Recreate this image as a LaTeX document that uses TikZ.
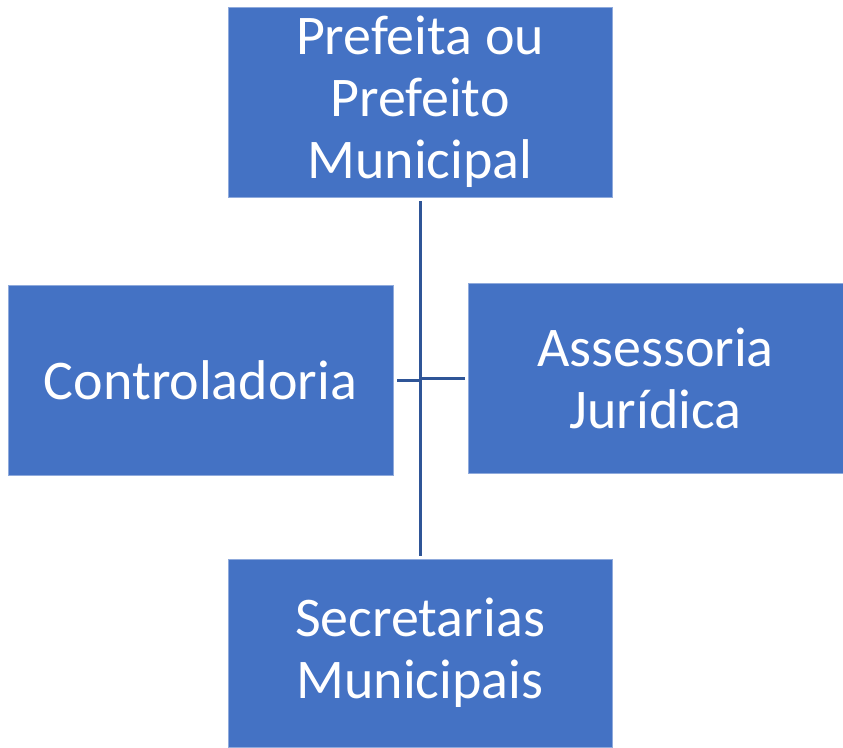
\documentclass[tikz,border=0pt]{standalone}
\usepackage{fontspec}
\setmainfont{Carlito}
\usetikzlibrary{positioning}
\usetikzlibrary{calc}

\definecolor{orgfill}{RGB}{68,114,196}
\definecolor{orgline}{RGB}{47,85,151}

\begin{document}
\begin{tikzpicture}[x=1pt,y=1pt,semithick]
			\tikzstyle{every node}=[font=\fontsize{56}{62}\selectfont]
			\tikzstyle{orgbox}=[fill=orgfill,draw=orgfill!60!white,line width=0.8pt,text=white,align=center,inner sep=0pt]
			\tikzstyle{orglink}=[draw=orgline,line width=3pt]
			
			\useasboundingbox (0,0) rectangle (843,-747);
			
			\node[orgbox,minimum width=384,minimum height=190] (chefe) at (420,-102)   {Prefeita ou\\Prefeito\\Municipal};
			\node[orgbox,minimum width=385,minimum height=190] (ctrl)  at (200.5,-380) {Controladoria};
			\node[orgbox,minimum width=375,minimum height=190] (jur)   at (655.5,-378) {Assessoria\\Jurídica};
			\node[orgbox,minimum width=384,minimum height=188] (secr)  at (420,-653)   {Secretarias\\Municipais};
			
			\path[orglink] (chefe.south) edge [shorten <=4pt,shorten >=3pt] (secr.north)
			(ctrl.east) edge [shorten <=4pt] (ctrl.east -| chefe.south)
			(jur.west) edge [shorten <=3pt] (jur.west -| chefe.south)
			
			;
\end{tikzpicture}
\end{document}
